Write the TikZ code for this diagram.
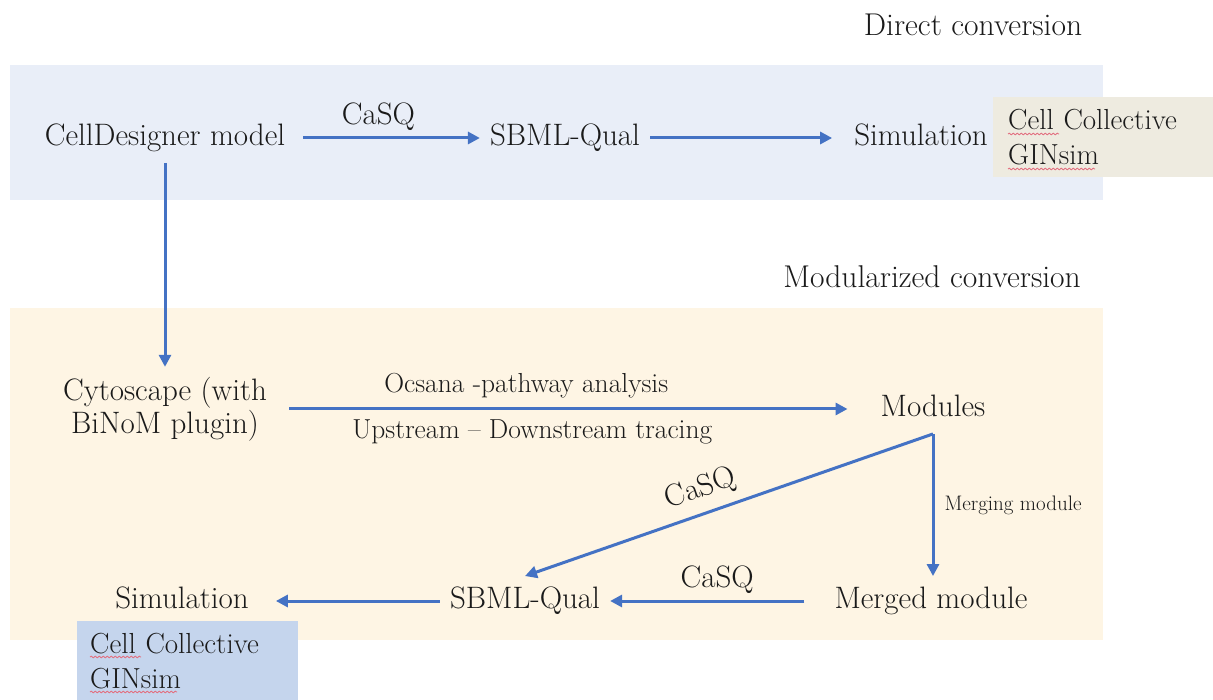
\documentclass[tikz,border=0pt]{standalone}
\usepackage{fontspec}
\usetikzlibrary{arrows.meta,decorations.pathmorphing}

\definecolor{flowblue}{RGB}{68,114,196}
\definecolor{directbg}{RGB}{233,238,248}
\definecolor{modularbg}{RGB}{254,245,228}
\definecolor{toolgray}{RGB}{238,235,224}
\definecolor{toolblue}{RGB}{197,213,237}
\definecolor{inkgray}{RGB}{26,26,26}
\definecolor{spellred}{RGB}{226,112,128}

\begin{document}
\begin{tikzpicture}
    [x=1pt,y=-1pt,
     lbl/.style={font=\fontsize{31}{33}\selectfont, text=inkgray, inner sep=10pt},
     stage/.style={lbl, text height=22pt, text depth=7.5pt},
     title/.style={stage, font=\fontsize{31.5}{33}\selectfont},
     edgelbl/.style={font=\fontsize{27.5}{30}\selectfont, text=inkgray, inner sep=4pt},
     casq/.style={edgelbl, font=\fontsize{31}{33}\selectfont},
     tools/.style={font=\fontsize{29}{35}\selectfont, text=inkgray, anchor=north west,
       align=left, inner ysep=0pt},
     flow/.style={->, >={Triangle[length=12pt,width=12pt]}, draw=flowblue, line width=3pt},
     spell/.style={draw=spellred, line width=0.9pt,
       decorate, decoration={snake, amplitude=0.8pt, segment length=4pt}}]

    \useasboundingbox (0,0) rectangle (1213,700);

    % background bands
    \fill[directbg] (10,65) rectangle (1103,200);
    \fill[modularbg] (10,308) rectangle (1103,640);

    \node[title] (direct) at (973,28) {Direct conversion};
    \node[title] (modular) at (932,280) {Modularized conversion};

    % direct conversion
    \node[stage] (cd) at (165,138) {CellDesigner model};
    \node[stage] (sbmlA) at (565,138) {SBML-Qual};
    \node[stage] (simA) at (921,138) {Simulation};
    \node[tools, fill=toolgray, text width=190pt, inner xsep=15pt,
      minimum height=80pt] (toolsA) at (993,97) {Cell Collective\\GINsim};

    % modularized conversion
    \node[lbl, align=center] (cyto) at (165,409) {Cytoscape (with\\BiNoM plugin)};
    \node[stage] (modules) at (933,409) {Modules};
    \node[stage] (merged) at (931,601) {Merged module};
    \node[stage] (sbmlB) at (525,601) {SBML-Qual};
    \node[stage] (simB) at (182,601) {Simulation};
    \node[tools, fill=toolblue, text width=195pt, inner xsep=13pt,
      minimum height=79pt] (toolsB) at (77,621) {Cell Collective\\GINsim};

    % spell-check marks
    \draw[spell] (1008,134) -- (1059,134);
    \draw[spell] (1008,169) -- (1095,169);
    \draw[spell] (90,657) -- (141,657);
    \draw[spell] (90,692) -- (177,692);

    \draw[flow, shorten <=8pt] (cd) -- node[casq, above=2pt, pos=0.45] {CaSQ} (sbmlA);
    \draw[flow, shorten >=12pt] (sbmlA) -- (simA);
    \draw[flow] (cd) -- (cyto);
    \draw[flow, shorten <=12pt, shorten >=23pt] (cyto) --
      node[edgelbl, above=5pt, pos=0.42] {Ocsana -pathway analysis}
      node[edgelbl, below=5pt, pos=0.43] {Upstream -- Downstream tracing} (modules);
    \draw[flow] (modules.south) -- node[casq, sloped, above=5pt, pos=0.55] {CaSQ} (sbmlB.north);
    \draw[flow] (modules.south) -- node[edgelbl, right=6pt, font=\fontsize{21}{24}\selectfont]
      {Merging module} (modules.south |- merged.north);
    \draw[flow, shorten <=20pt] (merged) -- node[casq, above=2pt] {CaSQ} (sbmlB);
    \draw[flow, shorten >=17pt] (sbmlB) -- (simB);
  \end{tikzpicture}
\end{document}
